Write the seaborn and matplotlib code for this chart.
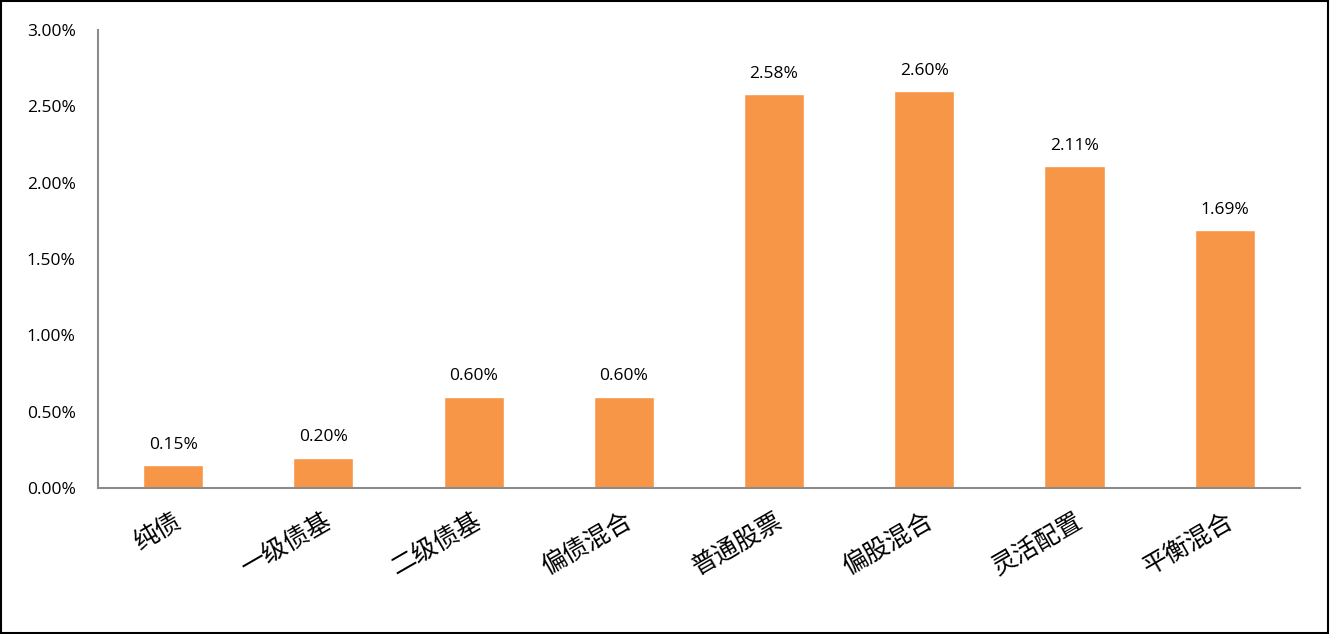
import pandas as pd
import seaborn as sns
import matplotlib.pyplot as plt
from matplotlib.patches import Rectangle

categories = ['纯债', '一级债基', '二级债基', '偏债混合', '普通股票', '偏股混合', '灵活配置', '平衡混合']
values = [0.15, 0.20, 0.60, 0.60, 2.58, 2.60, 2.11, 1.69]
yticks = [0.0, 0.5, 1.0, 1.5, 2.0, 2.5, 3.0]

df = pd.DataFrame({'category': categories, 'value': values})

sns.set_style('white')
plt.rcParams['font.family'] = ['Noto Sans CJK SC', 'DejaVu Sans']

fig = plt.figure(figsize=(13.31, 6.34), dpi=100)
ax = fig.add_axes([0.0736, 0.230, 0.903, 0.7227])

sns.barplot(data=df, x='category', y='value', color='#F79646', saturation=1,
            width=0.4, ax=ax)

for i, v in enumerate(values):
    ax.text(i, v + 0.08, f'{v:.2f}%', ha='center', va='bottom', fontsize=12.5,
            color='black', family=['Open Sans', 'DejaVu Sans'])

ax.set_xlim(-0.5, len(categories) - 0.5)
ax.set_ylim(0, 3.0)
ax.set_yticks(yticks)
ax.set_yticklabels([f'{t:.2f}%' for t in yticks], fontsize=12.5, color='black',
                   family=['Open Sans', 'DejaVu Sans'])
ax.set_xticks(range(len(categories)))
ax.set_xticklabels(categories, rotation=30, ha='right', rotation_mode='anchor',
                   fontsize=18, color='black')
ax.tick_params(axis='x', length=0, pad=14)
ax.tick_params(axis='y', length=0, pad=16)
ax.set_xlabel('')
ax.set_ylabel('')

for s in ['top', 'right']:
    ax.spines[s].set_visible(False)
for s in ['left', 'bottom']:
    ax.spines[s].set_color('#8c8c8c')
    ax.spines[s].set_linewidth(1.5)

fig.patches.append(Rectangle((0.001, 0.002), 0.997, 0.996, transform=fig.transFigure,
                             fill=False, edgecolor='black', linewidth=1.5))

fig.savefig('out.png', dpi=100)
